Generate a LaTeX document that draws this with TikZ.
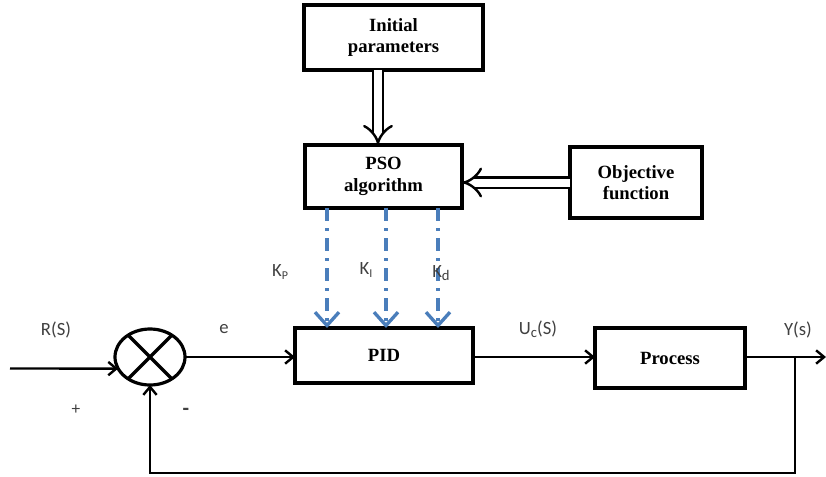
\documentclass[tikz,border=0pt]{standalone}
\usepackage{fontspec}
\setmainfont{Liberation Serif}
\newfontfamily\lblfont{Carlito}
\usetikzlibrary{arrows.meta,shapes.geometric}
\definecolor{kblue}{RGB}{74,126,187}
\tikzset{
  blk/.style={draw, line width=2.4pt, inner sep=0pt, outer sep=0pt, align=center, font=\bfseries\fontsize{14}{16}\selectfont},
  conn/.style={line width=1.8pt, -{Straight Barb[length=6pt,width=10pt]}},
  dbl/.style={line width=1.8pt, double distance=6pt, -{Implies[length=7pt]}},
  gain/.style={kblue, line width=2.5pt, dash pattern=on 10pt off 5pt on 2.5pt off 5pt, -{Straight Barb[length=10pt,width=18pt,line width=2.5pt]}},
  lbl/.style={font=\lblfont\fontsize{14}{16}\selectfont, text=black!75, inner sep=0pt}
}
\begin{document}
\begin{tikzpicture}[x=0.75pt,y=-0.75pt]
\useasboundingbox (0,0) rectangle (826,476);
\node[blk, minimum width={179*0.75pt}, minimum height={65*0.75pt}] (init) at (393.5,37.5) {Initial\\parameters};
\node[blk, minimum width={157*0.75pt}, minimum height={63*0.75pt}] (pso) at (383.5,176.5) {PSO\\algorithm};
\node[blk, minimum width={132*0.75pt}, minimum height={71*0.75pt}] (obj) at (636,182.5) {Objective\\function};
\node[blk, minimum width={178*0.75pt}, minimum height={55*0.75pt}] (pid) at (384,355.5) {PID};
\node[blk, minimum width={150*0.75pt}, minimum height={60*0.75pt}] (proc) at (670,358) {Process};
\node[draw, ellipse, line width=2.4pt, minimum width={70*0.75pt}, minimum height={56*0.75pt}, inner sep=0pt, outer sep=0pt] (sum) at (150,357) {};
\draw[line width=2.4pt] (sum.45) -- (sum.225) (sum.135) -- (sum.315);

\draw[dbl] (init.south -| 378,0) -- (pso.north -| 378,0);
\draw[dbl] (obj.west) -- (obj.west -| pso.east);

\draw[gain] (pso.south -| 327,0) -- (pid.north -| 327,0);
\draw[gain] (pso.south -| 386,0) -- (pid.north -| 386,0);
\draw[gain] (pso.south -| 438,0) -- (pid.north -| 438,0);

\coordinate (in) at (10,368.5);
\coordinate (tap) at (795,357);
\coordinate (out) at (826,357);
\draw[conn] (in) -- (sum.200);
\draw[conn] (sum.east) -- (sum.east -| pid.west);
\draw[conn] (pid.east |- tap) -- (proc.west |- tap);
\draw[conn] (proc.east |- tap) -- (out);
\draw[conn] (tap) -- ++(0,116) -| (sum.south);

\node[lbl] (lr) at (56,330) {R(S)};
\node[lbl] (lp) at (76,410) {\fontsize{13}{13}\selectfont +};
\node[lbl] (lm) at (186,412) {\bfseries\fontsize{16}{16}\selectfont -};
\node[lbl] (le) at (224,329) {e};
\node[lbl] (lkp) at (280,272) {K\raisebox{-0.35ex}{\fontsize{9}{10}\selectfont P}};
\node[lbl] (lki) at (366,270) {K\raisebox{-0.35ex}{\fontsize{9}{10}\selectfont I}};
\node[lbl] (lkd) at (441,273) {K\raisebox{-0.35ex}{\fontsize{11}{12}\selectfont d}};
\node[lbl] (lu) at (538,329) {U\raisebox{-0.35ex}{\fontsize{11}{12}\selectfont c}(S)};
\node[lbl] (ly) at (798,330) {Y(s)};
\end{tikzpicture}
\end{document}
